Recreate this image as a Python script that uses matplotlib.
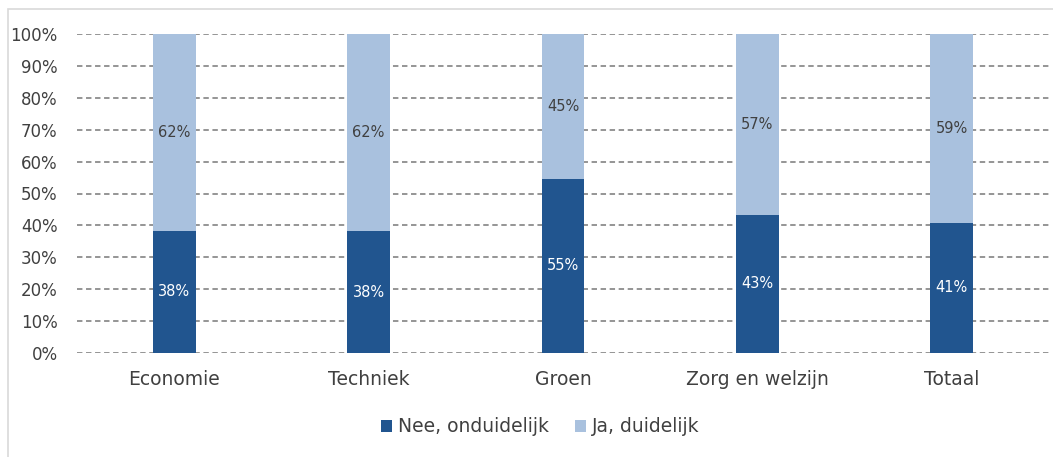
import matplotlib
matplotlib.use('Agg')
import matplotlib.pyplot as plt
import numpy as np
from matplotlib.patches import Rectangle

# data
categories = ['Economie', 'Techniek', 'Groen', 'Zorg en welzijn', 'Totaal']
nee = [38.4, 38.2, 54.7, 43.4, 40.8]
ja = [61.6, 61.8, 45.3, 56.6, 59.2]
nee_labels = ['38%', '38%', '55%', '43%', '41%']
ja_labels = ['62%', '62%', '45%', '57%', '59%']
yticks = [0, 10, 20, 30, 40, 50, 60, 70, 80, 90, 100]

dark = '#21558F'
light = '#A9C1DE'
txt = '#404040'

W, H = 1053, 457
fig = plt.figure(figsize=(W / 100, H / 100), dpi=100)
plt.rcParams['font.family'] = ['DejaVu Sans']

# light border round the chart area (runs off right/bottom)
fig.patches.append(Rectangle((8 / W, -0.05), 1.1, (H - 9) / H + 0.05,
                             transform=fig.transFigure, fill=False,
                             edgecolor='#D9D9D9', linewidth=1.2))

ax = fig.add_axes([77 / W, (H - 353) / H, 972 / W, 319 / H])
x = np.arange(len(categories))
b1 = ax.bar(x, nee, width=0.22, color=dark, label='Nee, onduidelijk', zorder=3)
b2 = ax.bar(x, ja, width=0.22, bottom=nee, color=light, label='Ja, duidelijk', zorder=3)

for i in range(len(categories)):
    ax.text(x[i], nee[i] / 2, nee_labels[i], ha='center', va='center',
            color='white', fontsize=10.5, zorder=4)
    ax.text(x[i], nee[i] + ja[i] / 2, ja_labels[i], ha='center', va='center',
            color=txt, fontsize=10.5, zorder=4)

ax.set_xlim(-0.5, len(categories) - 0.5)
ax.set_ylim(0, 100)
ax.set_yticks(yticks)
ax.set_yticklabels([f'{t}%' for t in yticks], fontsize=12, color=txt)
ax.set_xticks(x)
ax.set_xticklabels(categories, fontsize=13.5, color=txt)
ax.tick_params(axis='both', length=0)
ax.tick_params(axis='x', pad=12)
ax.tick_params(axis='y', pad=14)
for s in ax.spines.values():
    s.set_visible(False)
ax.yaxis.grid(True, linestyle=(0, (3, 2)), color='#8C8C8C', linewidth=1.3, zorder=0)
ax.set_axisbelow(True)

fig.legend(handles=[b1, b2], loc='center', bbox_to_anchor=(540 / W, (H - 427) / H),
           ncol=2, frameon=False, fontsize=13.5, handlelength=0.6, handleheight=0.6,
           handletextpad=0.3, columnspacing=1.4, labelcolor=txt)

fig.savefig('out.png', dpi=100)
